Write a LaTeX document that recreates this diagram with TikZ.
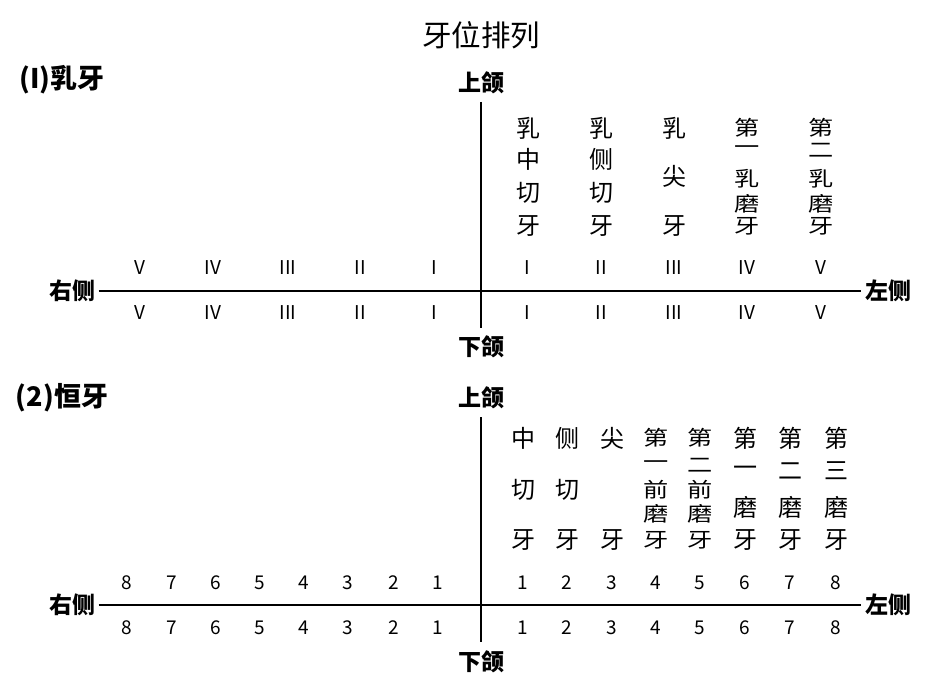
\documentclass[tikz,border=0pt]{standalone}
\usepackage{fontspec}
\newfontfamily\cjk{Noto Sans CJK SC}
\usetikzlibrary{positioning}

\begin{document}
\begin{tikzpicture}[x=1pt, y=-1pt,
    title/.style = {font=\cjk\fontsize{29.5}{29.5}\selectfont},
    head/.style = {font=\cjk\bfseries\fontsize{23}{23}\selectfont},
    part/.style = {font=\cjk\bfseries\fontsize{27}{27}\selectfont},
    lab/.style = {font=\cjk\fontsize{24}{24}\selectfont, inner sep=0pt},
    num/.style = {font=\cjk\fontsize{19}{19}\selectfont},
    axis/.style = {line width=2.2pt}]
    \useasboundingbox (0,0) rectangle (950,700);
    \node[title](t) at (481,35){牙位排列};

    % (1) primary teeth
    \node[part](h1) at (62,80){(I)乳牙};
    \node[head](up1) at (481,83){上颌};
    \node[head](dn1) at (481,347){下颌};
    \node[head](r1) at (72,291){右侧};
    \node[head](l1) at (888,291){左侧};
    \coordinate (v1a) at (481,102);
    \coordinate (v1b) at (481,328);
    \draw[axis] (v1a) -- (v1b);
    \draw[axis] (r1.east) -- (l1.west);
    \foreach \x/\n [count=\i] in {434/I,360/II,288/III,213/IV,140/V}{
        \node[num](ru\i) at (\x,268){\n};
        \node[num](rd\i) at (\x,313){\n};
    }
    \foreach \x/\n [count=\i] in {527/I,601/II,674/III,747/IV,821/V}{
        \node[num](lu\i) at (\x,268){\n};
        \node[num](ld\i) at (\x,313){\n};
    }
    \foreach \y/\c [count=\k] in {128/乳,159/中,193/切,226/牙}
        \node[lab](pa\k) at (528,\y){\c};
    \foreach \y/\c [count=\k] in {128/乳,159/侧,193/切,226/牙}
        \node[lab](pb\k) at (601,\y){\c};
    \foreach \y/\c [count=\k] in {128/乳,176/尖,226/牙}
        \node[lab](pc\k) at (674,\y){\c};
    \foreach \y/\c [count=\k] in {128/第,150/一,179/乳,204/磨,226/牙}
        \node[lab](pd\k) at (747,\y){\scalebox{1.05}[0.85]{\c}};
    \foreach \y/\c [count=\k] in {128/第,150/二,179/乳,204/磨,226/牙}
        \node[lab](pe\k) at (821,\y){\scalebox{1.05}[0.85]{\c}};

    % (2) permanent teeth
    \node[part](h2) at (62,398){(2)恒牙};
    \node[head](up2) at (481,398){上颌};
    \node[head](dn2) at (481,662){下颌};
    \node[head](r2) at (72,605){右侧};
    \node[head](l2) at (888,605){左侧};
    \coordinate (v2a) at (481,417);
    \coordinate (v2b) at (481,642);
    \draw[axis] (v2a) -- (v2b);
    \draw[axis] (r2.east) -- (l2.west);
    \foreach \x [count=\i] in {438,394,348,304,260,216,172,127}{
        \node[num](nu\i) at (\x,583){\i};
        \node[num](nd\i) at (\x,628){\i};
    }
    \foreach \x [count=\i] in {523,567,612,656,700,745,790,836}{
        \node[num](mu\i) at (\x,583){\i};
        \node[num](md\i) at (\x,628){\i};
    }
    \foreach \y/\c [count=\k] in {438/中,490/切,540/牙}
        \node[lab](qa\k) at (523,\y){\c};
    \foreach \y/\c [count=\k] in {438/侧,490/切,540/牙}
        \node[lab](qb\k) at (567,\y){\c};
    \foreach \y/\c [count=\k] in {438/尖,540/牙}
        \node[lab](qc\k) at (612,\y){\c};
    \foreach \y/\c [count=\k] in {438/第,465/一,490/前,514/磨,540/牙}
        \node[lab](qd\k) at (656,\y){\scalebox{1.05}[0.85]{\c}};
    \foreach \y/\c [count=\k] in {438/第,465/二,490/前,514/磨,540/牙}
        \node[lab](qe\k) at (700,\y){\scalebox{1.05}[0.85]{\c}};
    \foreach \y/\c [count=\k] in {438/第,471/一,507/磨,540/牙}
        \node[lab](qf\k) at (745,\y){\c};
    \foreach \y/\c [count=\k] in {438/第,471/二,507/磨,540/牙}
        \node[lab](qg\k) at (790,\y){\c};
    \foreach \y/\c [count=\k] in {438/第,471/三,507/磨,540/牙}
        \node[lab](qh\k) at (836,\y){\c};
\end{tikzpicture}
\end{document}
